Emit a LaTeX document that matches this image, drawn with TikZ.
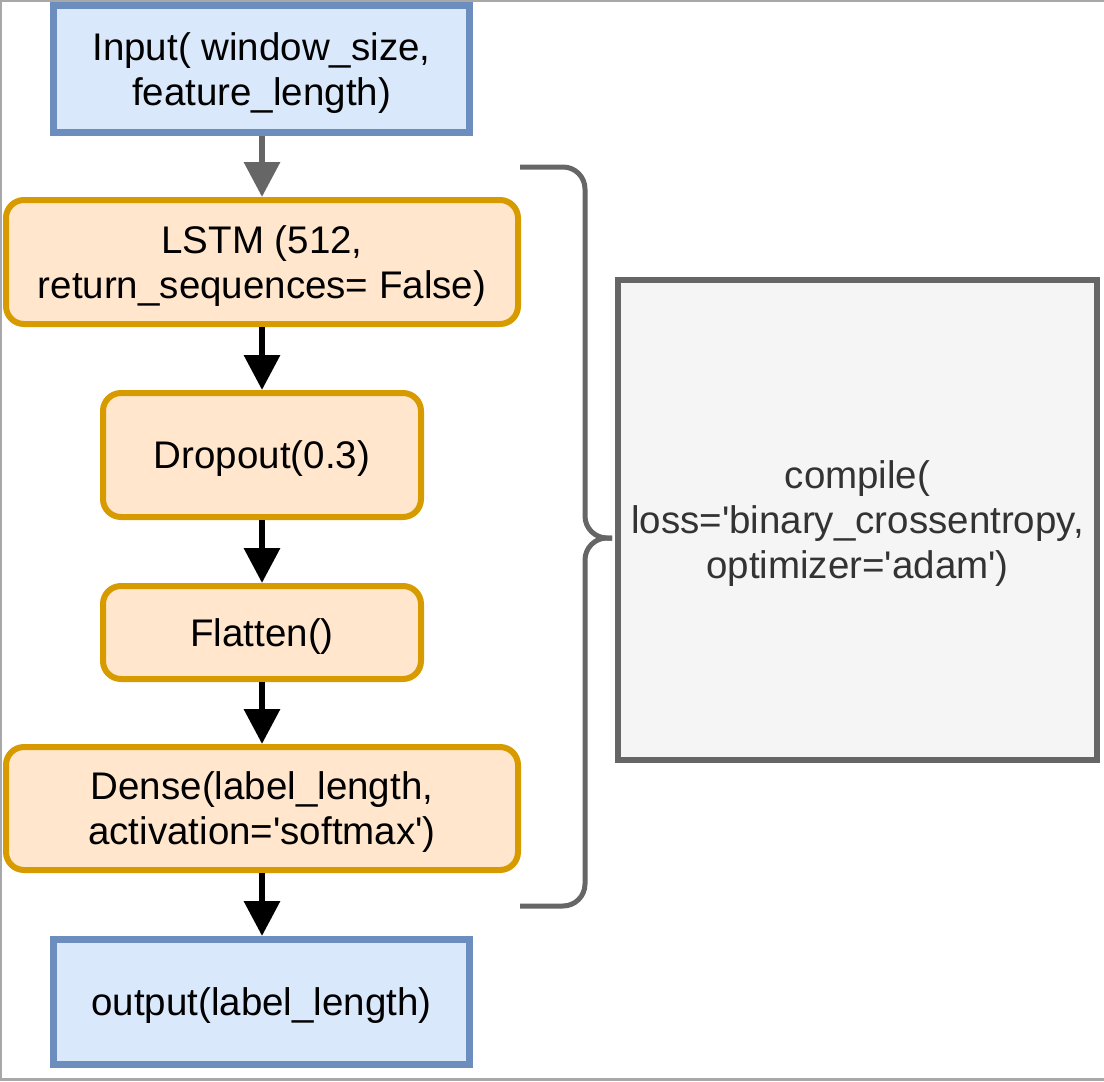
\documentclass[tikz,border=0pt]{standalone}
\usepackage{fontspec}
\setmainfont{Liberation Sans}
\usetikzlibrary{arrows.meta}
\definecolor{ioblue}{HTML}{DAE8FC}
\definecolor{iobluec}{HTML}{6C8EBF}
\definecolor{layerfill}{HTML}{FFE6CC}
\definecolor{layerc}{HTML}{D79B00}
\definecolor{greyc}{HTML}{666666}
\definecolor{greysoft}{HTML}{F5F5F5}
\definecolor{greyink}{HTML}{333333}
\definecolor{framec}{HTML}{A8A8A8}
\newcommand{\BoxF}{\fontsize{38.5}{45}\selectfont}
\newcommand{\sq}{\textquotesingle}

\tikzset{
  iobox/.style={draw=iobluec, fill=ioblue, line width=7pt, inner sep=0pt,
                align=center, font=\BoxF, text depth=-6pt},
  layerbox/.style={draw=layerc, fill=layerfill, line width=6pt, inner sep=0pt,
                   rounded corners=18pt, align=center, font=\BoxF, text depth=-6pt},
  compilebox/.style={draw=greyc, fill=greysoft, line width=6pt, inner sep=0pt,
                     align=center, font=\BoxF, text=greyink, text depth=-6pt},
  flow/.style={line width=6.5pt, -{Triangle[width=35pt,length=35pt]}},
  brace/.style={draw=greyc, line width=5pt, rounded corners=22pt},
}

\begin{document}
\begin{tikzpicture}[x=1pt, y=-1pt]
  \useasboundingbox (0,0) rectangle (1104,1082);
  % outer frame
  \draw[framec, line width=1.5pt] (0,0.75) -- (1104,0.75);
  \draw[framec, line width=1.5pt] (0.75,0) -- (0.75,1080);
  \draw[framec, line width=3pt] (0,1079.5) -- (1104,1079.5);

  % model layers
  \node[iobox, minimum width=416pt, minimum height=127pt] (inp) at (261.5,69)
    {Input( window\_size,\\feature\_length)};
  \node[layerbox, minimum width=512pt, minimum height=124pt] (lstm) at (262,262)
    {LSTM (512,\\return\_sequences= False)};
  \node[layerbox, minimum width=318pt, minimum height=124pt] (drop) at (262,455)
    {Dropout(0.3)};
  \node[layerbox, minimum width=318pt, minimum height=93pt] (flat) at (262,632.5)
    {Flatten()};
  \node[layerbox, minimum width=512pt, minimum height=123pt] (dense) at (262,808.5)
    {Dense(label\_length,\\activation=\sq softmax\sq)};
  \node[iobox, minimum width=416pt, minimum height=125pt] (out) at (261.5,1002)
    {output(label\_length)};

  \node[compilebox, minimum width=479pt, minimum height=480pt] (comp) at (857.5,520)
    {compile(\\loss=\sq binary\_crossentropy,\\optimizer=\sq adam\sq)};

  % connectors
  \draw[flow, greyc] (inp.south -| lstm.north) -- (lstm.north);
  \draw[flow] (lstm) -- (drop);
  \draw[flow] (drop) -- (flat);
  \draw[flow] (flat) -- (dense);
  \draw[flow] (dense.south) -- (dense.south |- out.north);

  % brace round the layers
  \coordinate (tip) at (612,538);
  \draw[brace] (520,167) -| (585,538) -- (tip);
  \draw[brace] (tip) -- (585,538) |- (520,906);
\end{tikzpicture}
\end{document}
